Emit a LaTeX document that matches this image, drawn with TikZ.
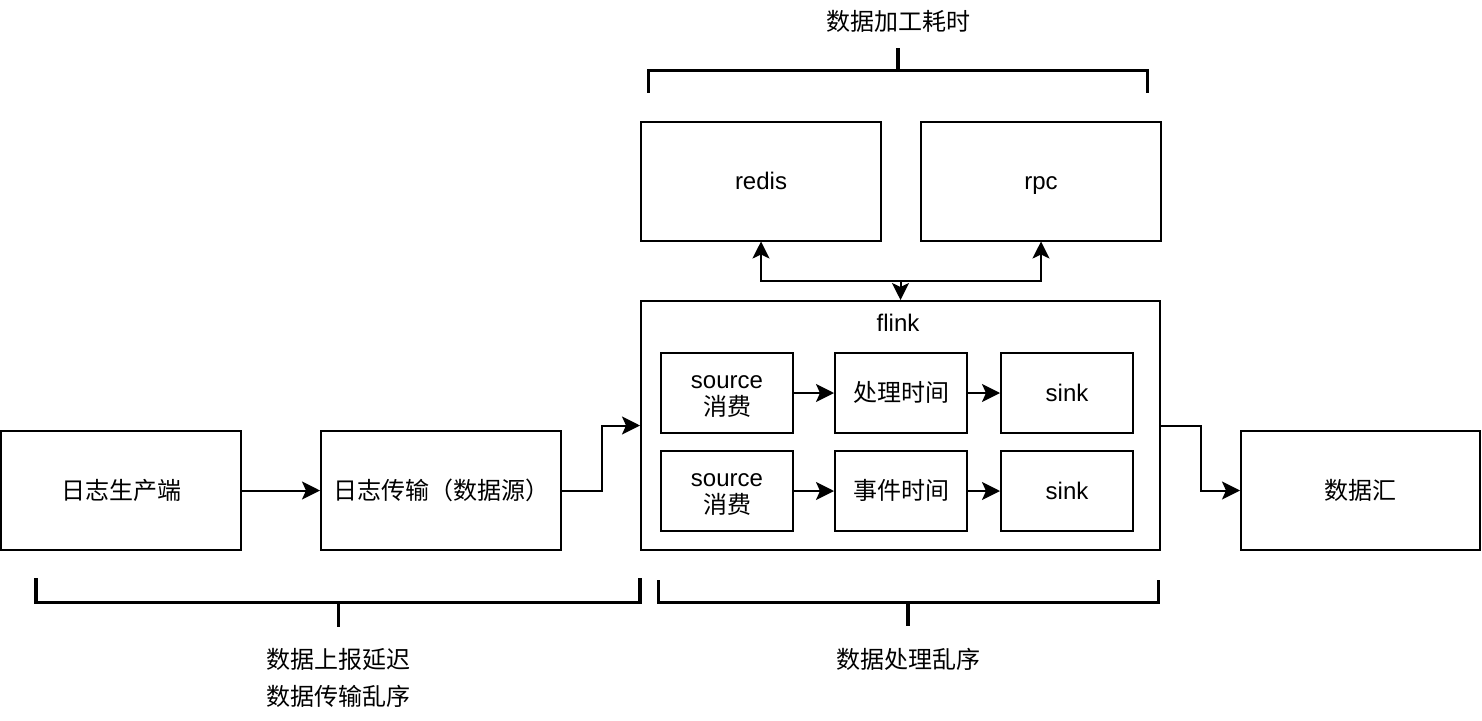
\documentclass[tikz,border=0pt]{standalone}
\usepackage{fontspec}
\setmainfont{Liberation Sans}
\newfontfamily\cjk{Noto Sans CJK SC}
\usetikzlibrary{arrows.meta}
\tikzset{
  lbl/.style={font=\fontsize{24}{27}\selectfont, align=center, inner sep=0pt},
  one/.style={text height=19pt, text depth=2pt},
  box/.style={draw, line width=2pt, minimum width=240pt, minimum height=119pt, lbl},
  inbox/.style={draw, line width=2pt, minimum width=132pt, minimum height=80pt, lbl},
  conn/.style={line width=2pt, -{Stealth[length=18pt,width=18pt,inset=4pt]}},
  conn3/.style={line width=2pt, -{Stealth[length=17pt,width=17pt,inset=4pt]}},
  conn2/.style={line width=2pt, {Stealth[length=17pt,width=17pt,inset=4pt]}-{Stealth[length=17pt,width=17pt,inset=4pt]}},
  brk/.style={line width=3.8pt, line cap=butt, line join=miter}
}
\begin{document}
\begin{tikzpicture}[x=1pt,y=-1pt]
\useasboundingbox[fill=white] (0,0) rectangle (1482,720);

% main boxes
\node[box, one] (prod) at (121,490.5) {\cjk 日志生产端};
\node[box, one] (trans) at (441,490.5) {\cjk 日志传输（数据源）};
\node[box, minimum width=519pt, minimum height=249pt] (flink) at (900.5,425.5) {};
\node[lbl, one] (flinklbl) at (898,323) {flink};
\node[box, one] (redis) at (761,181) {redis};
\node[box, one] (rpc) at (1041,181) {rpc};
\node[box, one, minimum width=239pt] (sinkall) at (1360.5,490.5) {\cjk 数据汇};

% inner boxes
\node[inbox, label={[lbl, yshift=-3.5pt]center:{source\\{\cjk 消费}}}] (src1) at (727,393) {};
\node[inbox, one] (proc) at (901,393) {\cjk 处理时间};
\node[inbox, one] (sink1) at (1067,393) {sink};
\node[inbox, label={[lbl, yshift=-3.5pt]center:{source\\{\cjk 消费}}}] (src2) at (727,491) {};
\node[inbox, one] (evt) at (901,491) {\cjk 事件时间};
\node[inbox, one] (sink2) at (1067,491) {sink};

% connectors
\draw[conn] (prod) -- (trans);
\draw[conn] (trans.east) -- ++(40,0) |- (flink.west);
\draw[conn] (flink.east) -- ++(40,0) |- (sinkall.west);
\draw[conn] (src1) -- (proc);
\draw[conn] (proc) -- (sink1);
\draw[conn] (src2) -- (evt);
\draw[conn] (evt) -- (sink2);
\coordinate (hub) at (900.5,281);
\draw[conn2] (redis.south) |- (hub) -- (flink.north);
\draw[conn3] (hub) -| (rpc.south);

% brackets
\draw[brk] (648.5,92.5) -- (648.5,70.5) -- (1147.5,70.5) -- (1147.5,92.5);
\draw[brk] (898,70.5) -- (898,48);
\node[lbl, one] (toplbl) at (898,22) {\cjk 数据加工耗时};

\draw[brk] (36,578) -- (36,602.5) -- (640,602.5) -- (640,578);
\draw[brk] (338.5,602.5) -- (338.5,627);
\node[lbl, one] (bl1) at (338,660) {\cjk 数据上报延迟};
\node[lbl, one] (bl2) at (338,697) {\cjk 数据传输乱序};

\draw[brk] (658.5,580) -- (658.5,602.5) -- (1158.5,602.5) -- (1158.5,580);
\draw[brk] (908,602.5) -- (908,626);
\node[lbl, one] (brlbl) at (908,660) {\cjk 数据处理乱序};
\end{tikzpicture}
\end{document}
